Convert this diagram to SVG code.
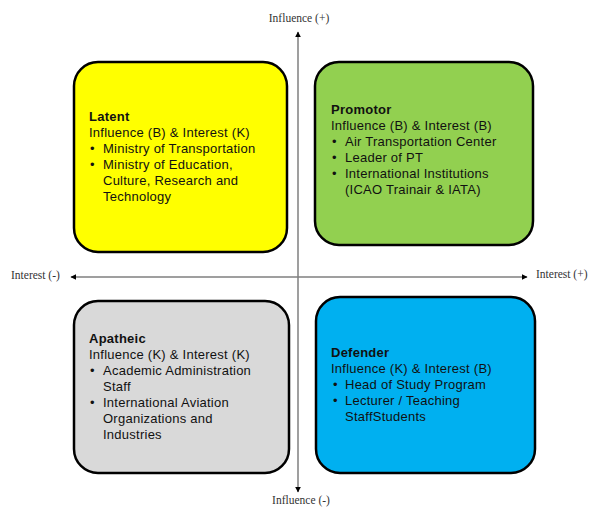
<svg xmlns="http://www.w3.org/2000/svg" width="591" height="508" viewBox="0 0 591 508">
<style>
.box{stroke:#000;stroke-width:2.5}
.t{font-family:"Liberation Sans",Arial,sans-serif;font-size:13px;letter-spacing:0.25px;fill:#111}
.b{font-weight:bold}
.ax{font-family:"Liberation Serif","Times New Roman",serif;font-size:11.5px;fill:#333}
.axis{stroke:#7f7f7f;stroke-width:1.5;fill:none}
</style>
<defs>
<marker id="ah" viewBox="0 0 10 10" refX="9" refY="5" markerWidth="6" markerHeight="6" orient="auto-start-reverse" markerUnits="userSpaceOnUse">
<path d="M0,0 L10,5 L0,10 z" fill="#000"/>
</marker>
</defs>
<rect width="591" height="508" fill="#fff"/>
<g id="connectors">
<line class="axis" x1="298" y1="32" x2="298" y2="492" marker-start="url(#ah)" marker-end="url(#ah)"/>
<line class="axis" x1="71" y1="277" x2="527" y2="277" marker-start="url(#ah)" marker-end="url(#ah)"/>
</g>
<g id="axis-labels">
<text class="ax" x="299" y="22" text-anchor="middle">Influence (+)</text>
<text class="ax" x="301" y="504" text-anchor="middle">Influence (-)</text>
<text class="ax" x="11" y="279">Interest (-)</text>
<text class="ax" x="536" y="278">Interest (+)</text>
</g>
<g id="latent">
<rect class="box" x="74" y="62" width="213" height="190" rx="24" fill="#FFFF00"/>
<text class="t b" x="89" y="121">Latent</text>
<text class="t" x="89" y="137">Influence (B) &amp; Interest (K)</text>
<text class="t" x="90" y="153">•</text><text class="t" x="103" y="153">Ministry of Transportation</text>
<text class="t" x="90" y="169">•</text><text class="t" x="103" y="169">Ministry of Education,</text>
<text class="t" x="103" y="185">Culture, Research and</text>
<text class="t" x="103" y="201">Technology</text>
</g>
<g id="promotor">
<rect class="box" x="315" y="62" width="218" height="183" rx="24" fill="#92D050"/>
<text class="t b" x="331" y="114">Promotor</text>
<text class="t" x="331" y="130">Influence (B) &amp; Interest (B)</text>
<text class="t" x="332" y="146">•</text><text class="t" x="345" y="146">Air Transportation Center</text>
<text class="t" x="332" y="162">•</text><text class="t" x="345" y="162">Leader of PT</text>
<text class="t" x="332" y="178">•</text><text class="t" x="345" y="178">International Institutions</text>
<text class="t" x="345" y="194">(ICAO Trainair &amp; IATA)</text>
</g>
<g id="apatheic">
<rect class="box" x="74" y="301" width="215" height="172" rx="24" fill="#D9D9D9"/>
<text class="t b" x="89" y="343">Apatheic</text>
<text class="t" x="89" y="359">Influence (K) &amp; Interest (K)</text>
<text class="t" x="90" y="375">•</text><text class="t" x="103" y="375">Academic Administration</text>
<text class="t" x="103" y="391">Staff</text>
<text class="t" x="90" y="407">•</text><text class="t" x="103" y="407">International Aviation</text>
<text class="t" x="103" y="423">Organizations and</text>
<text class="t" x="103" y="439">Industries</text>
</g>
<g id="defender">
<rect class="box" x="316" y="297" width="219" height="176" rx="24" fill="#00B0F0"/>
<text class="t b" x="331" y="357">Defender</text>
<text class="t" x="331" y="373">Influence (K) &amp; Interest (B)</text>
<text class="t" x="333" y="389">•</text><text class="t" x="345" y="389">Head of Study Program</text>
<text class="t" x="333" y="405">•</text><text class="t" x="345" y="405">Lecturer / Teaching</text>
<text class="t" x="345" y="421">StaffStudents</text>
</g>
</svg>
